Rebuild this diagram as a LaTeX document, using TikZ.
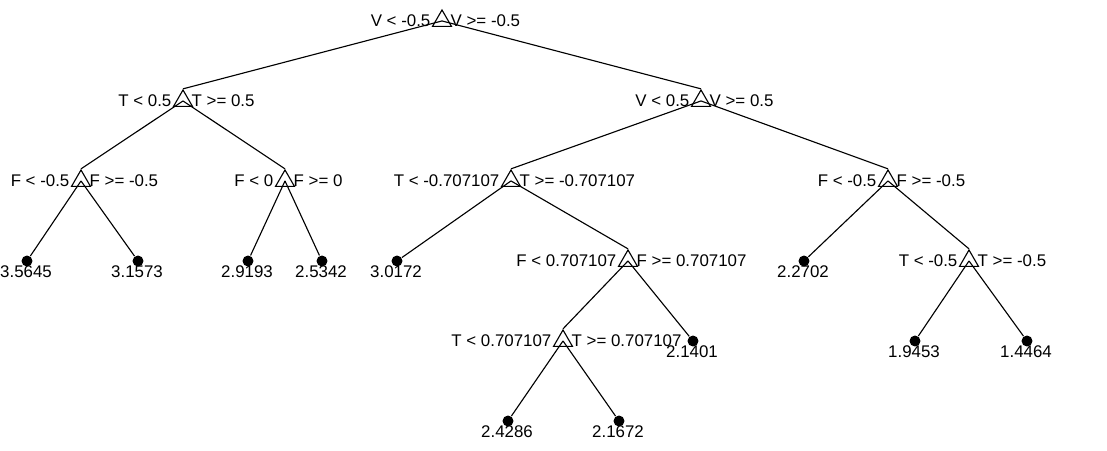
\documentclass[tikz,border=0pt]{standalone}
\usepackage{fontspec}
\setmainfont{Liberation Sans}
\usetikzlibrary{shapes.geometric}

\begin{document}
\begin{tikzpicture}[x=0.025cm, y=-0.025cm, line width=0.8pt,
  font=\fontsize{12}{14}\selectfont,
  split/.style 2 args={regular polygon, regular polygon sides=3, draw,
    minimum size=15.6pt, inner sep=0pt, anchor=side 2,
    label={[inner sep=0pt,anchor=base east,xshift=-2.9pt,yshift=-3.9pt]left:#1},
    label={[inner sep=0pt,anchor=base west,xshift=0.8pt,yshift=-3.9pt]right:#2}},
  leaf/.style={circle, fill, inner sep=0pt, minimum size=7.8pt,
    label={[inner sep=0pt,anchor=base,xshift=-0.7pt,yshift=-7.1pt]below:#1}}]
  \useasboundingbox (0,0) rectangle (1107,451);
  % splits
  \node[split={V < -0.5}{V >= -0.5}] (v0) at (442,27) {};
  \node[split={T < 0.5}{T >= 0.5}] (t1) at (183,107) {};
  \node[split={V < 0.5}{V >= 0.5}] (v1) at (701,107) {};
  \node[split={F < -0.5}{F >= -0.5}] (f1) at (81,187) {};
  \node[split={F < 0}{F >= 0}] (f2) at (285,187) {};
  \node[split={T < -0.707107}{T >= -0.707107}] (t2) at (511,187) {};
  \node[split={F < -0.5}{F >= -0.5}] (f3) at (888,187) {};
  \node[split={F < 0.707107}{F >= 0.707107}] (f4) at (628,267) {};
  \node[split={T < -0.5}{T >= -0.5}] (t3) at (969,267) {};
  \node[split={T < 0.707107}{T >= 0.707107}] (t4) at (563,347) {};
  % leaves
  \node[leaf=3.5645] (y1) at (27,261) {};
  \node[leaf=3.1573] (y2) at (138,261) {};
  \node[leaf=2.9193] (y3) at (248,261) {};
  \node[leaf=2.5342] (y4) at (322,261) {};
  \node[leaf=3.0172] (y5) at (397,261) {};
  \node[leaf=2.2702] (y6) at (804,261) {};
  \node[leaf=2.1401] (y7) at (693,341) {};
  \node[leaf=1.9453] (y8) at (915,341) {};
  \node[leaf=1.4464] (y9) at (1027,341) {};
  \node[leaf=2.4286] (y10) at (508,421) {};
  \node[leaf=2.1672] (y11) at (619,421) {};
  % branches
  \draw (v0.center) -- (t1.corner 1);
  \draw (v0.center) -- (v1.corner 1);
  \draw (t1.center) -- (f1.corner 1);
  \draw (t1.center) -- (f2.corner 1);
  \draw (v1.center) -- (t2.corner 1);
  \draw (v1.center) -- (f3.corner 1);
  \draw (f1.center) -- (y1);
  \draw (f1.center) -- (y2);
  \draw (f2.center) -- (y3);
  \draw (f2.center) -- (y4);
  \draw (t2.center) -- (y5);
  \draw (t2.center) -- (f4.corner 1);
  \draw (f3.center) -- (y6);
  \draw (f3.center) -- (t3.corner 1);
  \draw (f4.center) -- (t4.corner 1);
  \draw (f4.center) -- (y7);
  \draw (t3.center) -- (y8);
  \draw (t3.center) -- (y9);
  \draw (t4.center) -- (y10);
  \draw (t4.center) -- (y11);
\end{tikzpicture}
\end{document}
